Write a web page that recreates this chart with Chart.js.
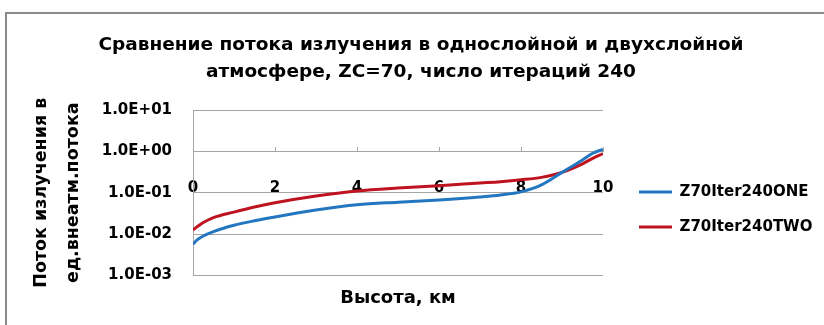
<!DOCTYPE html>
<html>
<head>
<meta charset="utf-8">
<script src="https://cdn.jsdelivr.net/npm/chart.js@4.4.0/dist/chart.umd.min.js"></script>
<style>
  html, body { margin: 0; padding: 0; background: #fff; }
  #wrap { width: 824px; height: 325px; position: relative; }
</style>
</head>
<body>
<div id="wrap"><canvas id="c" width="824" height="325"></canvas></div>
<script>
// ---- data ----
const heights = [0, 0.1, 0.25, 0.5, 1, 1.5, 2, 3, 4, 5, 6, 7, 7.5, 8, 8.5, 9, 9.5, 9.75, 10];
const fluxOne = [0.0057, 0.0072, 0.009, 0.0115, 0.0163, 0.021, 0.026, 0.038, 0.051, 0.059, 0.067, 0.079, 0.088, 0.105, 0.155, 0.31, 0.62, 0.9, 1.12];
const fluxTwo = [0.0125, 0.015, 0.019, 0.025, 0.034, 0.045, 0.057, 0.083, 0.11, 0.13, 0.148, 0.172, 0.185, 0.205, 0.235, 0.31, 0.5, 0.68, 0.88];
const seriesNames = ['Z70Iter240ONE', 'Z70Iter240TWO'];
const yTickValues = [0.001, 0.01, 0.1, 1, 10];
const yTickLabels = ['1.0E-03', '1.0E-02', '1.0E-01', '1.0E+00', '1.0E+01'];
const xTickValues = [0, 2, 4, 6, 8, 10];
const titleLines = ['Сравнение потока излучения в однослойной и двухслойной', 'атмосфере, ZC=70, число итераций 240'];
const yTitleLines = ['Поток излучения в', 'ед.внеатм.потока'];
const xTitle = 'Высота, км';

const FONT = "'DejaVu Sans', sans-serif";
const GRID = '#a6a6a6';

const framePlugin = {
  id: 'frame',
  beforeDraw(chart) {
    const ctx = chart.ctx;
    ctx.save();
    ctx.fillStyle = '#fff';
    ctx.fillRect(0, 0, chart.width, chart.height);
    ctx.strokeStyle = '#8a8a8a';
    ctx.lineWidth = 2;
    ctx.strokeRect(6, 13, chart.width + 20, chart.height + 20);
    ctx.restore();
  }
};

new Chart(document.getElementById('c'), {
  type: 'line',
  data: {
    datasets: [
      { label: seriesNames[0], data: heights.map((h, i) => ({ x: h, y: fluxOne[i] })),
        borderColor: '#2277c0', backgroundColor: '#2277c0', borderWidth: 3,
        pointRadius: 0, cubicInterpolationMode: 'monotone', xAxisID: 'x2', yAxisID: 'y' },
      { label: seriesNames[1], data: heights.map((h, i) => ({ x: h, y: fluxTwo[i] })),
        borderColor: '#be1420', backgroundColor: '#be1420', borderWidth: 3,
        pointRadius: 0, cubicInterpolationMode: 'monotone', xAxisID: 'x2', yAxisID: 'y' }
    ]
  },
  options: {
    responsive: false,
    animation: false,
    events: [],
    layout: { padding: { left: 27, right: 9, top: 0, bottom: 0 } },
    plugins: {
      title: {
        display: true, text: titleLines, color: '#000',
        font: { family: FONT, size: 18.5, weight: 'bold', lineHeight: 1.46 },
        padding: { top: 31.5, bottom: 24.5 }
      },
      legend: {
        display: true, position: 'right', align: 'start', maxWidth: 196,
        title: { display: true, text: ' ', padding: 72, font: { size: 17 } },
        labels: {
          usePointStyle: true, pointStyle: 'line', pointStyleWidth: 33,
          padding: 20, color: '#000',
          font: { family: FONT, size: 15, weight: 'bold' }
        }
      },
      tooltip: { enabled: false }
    },
    scales: {
      x: {
        type: 'linear', position: 'bottom', min: 0, max: 10,
        ticks: { display: false },
        grid: { display: false, drawTicks: false },
        border: { display: false },
        title: { display: true, text: xTitle, color: '#000',
          font: { family: FONT, size: 18, weight: 'bold', lineHeight: 1.2 },
          padding: { top: 12, bottom: 16 } }
      },
      x2: {
        type: 'linear', position: { y: 1 }, min: 0, max: 10,
        afterBuildTicks: s => { s.ticks = xTickValues.map(v => ({ value: v })); },
        ticks: { color: '#000', padding: 33, maxRotation: 0,
          font: { family: FONT, size: 15, weight: 'bold' } },
        grid: { drawOnChartArea: false, drawTicks: true, tickLength: -5, color: GRID },
        border: { display: true, color: GRID, width: 1 }
      },
      y: {
        type: 'logarithmic', position: 'left', min: 0.001, max: 10,
        afterBuildTicks: s => { s.ticks = yTickValues.map(v => ({ value: v })); },
        afterFit: s => { s.width = 166; },
        ticks: { color: '#000', padding: 21,
          font: { family: FONT, size: 15, weight: 'bold' },
          callback: (v) => yTickLabels[yTickValues.findIndex(t => Math.abs(Math.log10(t) - Math.log10(v)) < 1e-6)] },
        grid: { color: GRID, drawTicks: false, lineWidth: 1 },
        border: { display: true, color: GRID, width: 1 },
        title: { display: true, text: yTitleLines, color: '#000',
          font: { family: FONT, size: 17.5, weight: 'bold', lineHeight: 1.83 },
          padding: { top: -2, bottom: 0 } }
      },
      gap: {
        type: 'linear', position: 'right', display: false,
        ticks: { display: false }, grid: { display: false, drawTicks: false },
        border: { display: false },
        afterFit: s => { s.width = 16; }
      }
    }
  },
  plugins: [framePlugin]
});
</script>
</body>
</html>
